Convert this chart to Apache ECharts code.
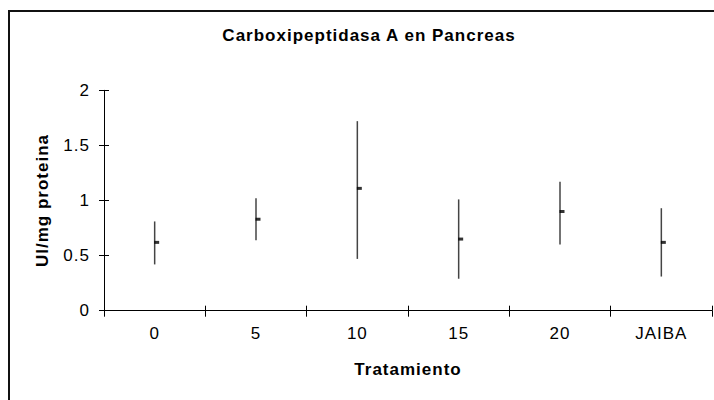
<!DOCTYPE html>
<html>
<head>
<meta charset="utf-8">
<script src="https://cdn.jsdelivr.net/npm/echarts@6/dist/echarts.min.js"></script>
<style>
html,body{margin:0;padding:0;background:#fff;}
#chart{width:714px;height:400px;}
#chart text{letter-spacing:1px;}
</style>
</head>
<body>
<div id="chart"></div>
<script>
var categories = ['0', '5', '10', '15', '20', 'JAIBA'];
var means = [0.62, 0.83, 1.11, 0.65, 0.90, 0.62];
var lows = [0.42, 0.64, 0.47, 0.29, 0.60, 0.31];
var highs = [0.81, 1.02, 1.72, 1.01, 1.17, 0.93];
var yTicks = { min: 0, max: 2, interval: 0.5 };
var titleText = 'Carboxipeptidasa A en Pancreas';
var xName = 'Tratamiento';
var yName = 'UI/mg proteina';

var FONT = 'Arial, "Liberation Sans", sans-serif';
var chart = echarts.init(document.getElementById('chart'), null, { renderer: 'svg' });

var errData = categories.map(function (c, i) { return [i, lows[i], highs[i]]; });
var meanData = categories.map(function (c, i) { return [i, means[i]]; });

var baseX = {
  type: 'category', data: categories, gridIndex: 0, position: 'bottom',
  boundaryGap: true
};
var baseY = {
  type: 'value', min: yTicks.min, max: yTicks.max, interval: yTicks.interval,
  gridIndex: 0, position: 'left'
};

chart.setOption({
  animation: false,
  backgroundColor: '#fff',
  title: {
    text: titleText, left: 364, top: 22, textAlign: 'center',
    textStyle: { fontFamily: FONT, fontSize: 17, fontWeight: 'bold', color: '#000' }
  },
  graphic: [{
    type: 'rect', shape: { x: 9, y: 11, width: 800, height: 500 },
    style: { fill: 'none', stroke: '#111', lineWidth: 2 }, silent: true, z: 0
  }],
  grid: { left: 104, right: 2, top: 90.3, bottom: 89.3, containLabel: false },
  xAxis: [
    Object.assign({}, baseX, {
      name: xName, nameLocation: 'middle', nameGap: 50,
      nameTextStyle: { fontFamily: FONT, fontSize: 17, fontWeight: 'bold', color: '#000' },
      axisLine: { show: true, lineStyle: { color: '#000', width: 1 } },
      axisTick: { show: true, inside: false, length: 6, lineStyle: { color: '#000', width: 1 } },
      axisLabel: { margin: 14, fontFamily: FONT, fontSize: 17, color: '#000' },
      splitLine: { show: false }
    }),
    Object.assign({}, baseX, {
      axisLine: { show: false },
      axisTick: { show: true, inside: true, length: 5, lineStyle: { color: '#000', width: 1 } },
      axisLabel: { show: false },
      splitLine: { show: false }
    })
  ],
  yAxis: [
    Object.assign({}, baseY, {
      name: yName, nameLocation: 'middle', nameGap: 53, nameRotate: 90,
      nameTextStyle: { fontFamily: FONT, fontSize: 17, fontWeight: 'bold', color: '#000' },
      axisLine: { show: true, lineStyle: { color: '#000', width: 1 } },
      axisTick: { show: true, inside: false, length: 5, lineStyle: { color: '#000', width: 1 } },
      axisLabel: { margin: 14, fontFamily: FONT, fontSize: 17, color: '#000' },
      splitLine: { show: false }
    }),
    Object.assign({}, baseY, {
      axisLine: { show: false },
      axisTick: { show: true, inside: true, length: 5, lineStyle: { color: '#000', width: 1 } },
      axisLabel: { show: false },
      splitLine: { show: false }
    })
  ],
  series: [
    {
      type: 'custom', xAxisIndex: 0, yAxisIndex: 0, data: errData,
      renderItem: function (params, api) {
        var p1 = api.coord([api.value(0), api.value(1)]);
        var p2 = api.coord([api.value(0), api.value(2)]);
        return {
          type: 'line',
          shape: { x1: p1[0], y1: p1[1], x2: p2[0], y2: p2[1] },
          style: { stroke: '#444', lineWidth: 1.5 }
        };
      },
      z: 2
    },
    {
      type: 'scatter', xAxisIndex: 0, yAxisIndex: 0, data: meanData,
      symbol: 'rect', symbolSize: [5, 3], symbolOffset: [2, 0],
      itemStyle: { color: '#000' }, z: 3
    }
  ]
});
</script>
</body>
</html>
